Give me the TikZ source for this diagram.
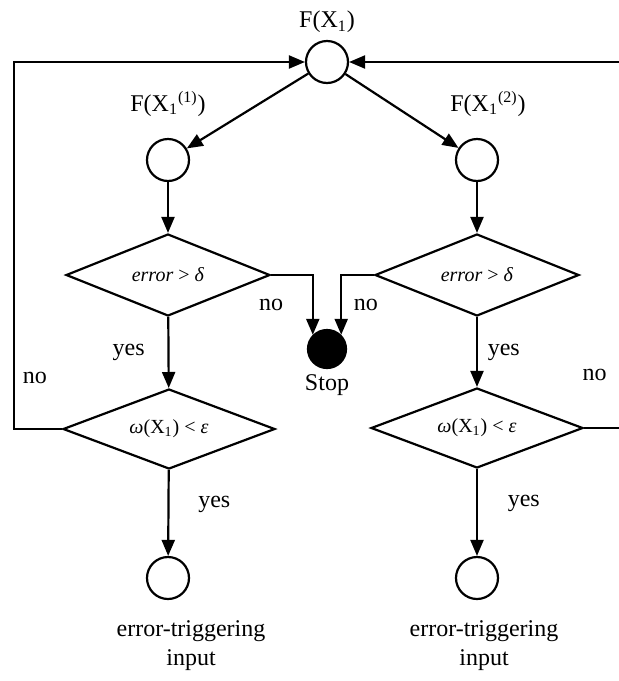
\documentclass[tikz,border=0pt]{standalone}
\usepackage{fontspec}
\setmainfont{Liberation Serif}
\usetikzlibrary{arrows.meta,positioning,shapes.geometric}

\begin{document}
\begin{tikzpicture}[
    x=0.5pt, y=-0.5pt,
    line width=1.1pt,
    font=\fontsize{12}{14}\selectfont,
    point/.style={draw, circle, minimum size=21pt, inner sep=0pt},
    stopdot/.style={draw, circle, fill=black, minimum size=19pt, inner sep=0pt},
    test/.style={draw, diamond, aspect=2.5, inner sep=0pt,
                 minimum width=102pt, minimum height=41pt,
                 font=\fontsize{10}{12}\selectfont},
    wide/.style={minimum width=106pt, minimum height=40pt},
    outlbl/.style={align=center, font=\fontsize{12}{14.5}\selectfont},
    arrow/.style={-{Triangle[length=8pt,width=6.5pt]}}
  ]
    \useasboundingbox (0,0) rectangle (619,681);
    \clip (0,0) rectangle (619,681);

    % nodes
    \node[point] (top) at (327,62) {};
    \node (ftop) at (327,22) {F(X\textsubscript{1})};
    \node[point] (p1) at (168,160) {};
    \node[point] (p2) at (477,160) {};
    \node (f1) at (168,104) {F(X\textsubscript{1}\textsuperscript{(1)})};
    \node (f2) at (488,104) {F(X\textsubscript{1}\textsuperscript{(2)})};
    \node[test] (e1) at (168,275) {\textit{error} > \textit{δ}};
    \node[test] (e2) at (477,275) {\textit{error} > \textit{δ}};
    \node[stopdot] (stop) at (327,349) {};
    \node (stoplbl) at (327,385) {Stop};
    \node[test, wide] (w1) at (169,429) {\textit{ω}(X\textsubscript{1}) < \textit{ε}};
    \node[test, wide] (w2) at (477,428) {\textit{ω}(X\textsubscript{1}) < \textit{ε}};
    \node[point] (q1) at (168,578) {};
    \node[point] (q2) at (477,578) {};
    \node[outlbl] (in1) at (191,646) {error-triggering\\input};
    \node[outlbl] (in2) at (484,646) {error-triggering\\input};

    \coordinate (lcorner) at (14,62);
    \coordinate (rcorner) at (630,62);

    % connectors
    \draw[arrow] (top) -- (p1);
    \draw[arrow] (top) -- (p2);
    \draw[arrow] (p1) -- (e1);
    \draw[arrow] (p2) -- (e2);
    \draw[arrow] (e1) -- node[left=8pt]{yes} (w1);
    \draw[arrow] (e2) -- node[right=1.5pt]{yes} (w2);
    \draw[arrow] (e1.east) -| node[pos=0, below=8pt]{no} (stop.north west);
    \draw[arrow] (e2.west) -| node[pos=0, below=8pt, xshift=-4pt]{no} (stop.north east);
    \draw[arrow] (w1) -- node[pos=0.4, right=11pt]{yes} (q1);
    \draw[arrow] (w2) -- node[pos=0.4, right=11.5pt]{yes} (q2);
    \draw[arrow] (w1.west) -| node[pos=0.57, right=0.5pt]{no} (lcorner) -- (top.west);
    \draw[arrow] (w2.east) -| node[pos=0.115, above=20pt]{no} (rcorner) -- (top.east);
  \end{tikzpicture}
\end{document}
